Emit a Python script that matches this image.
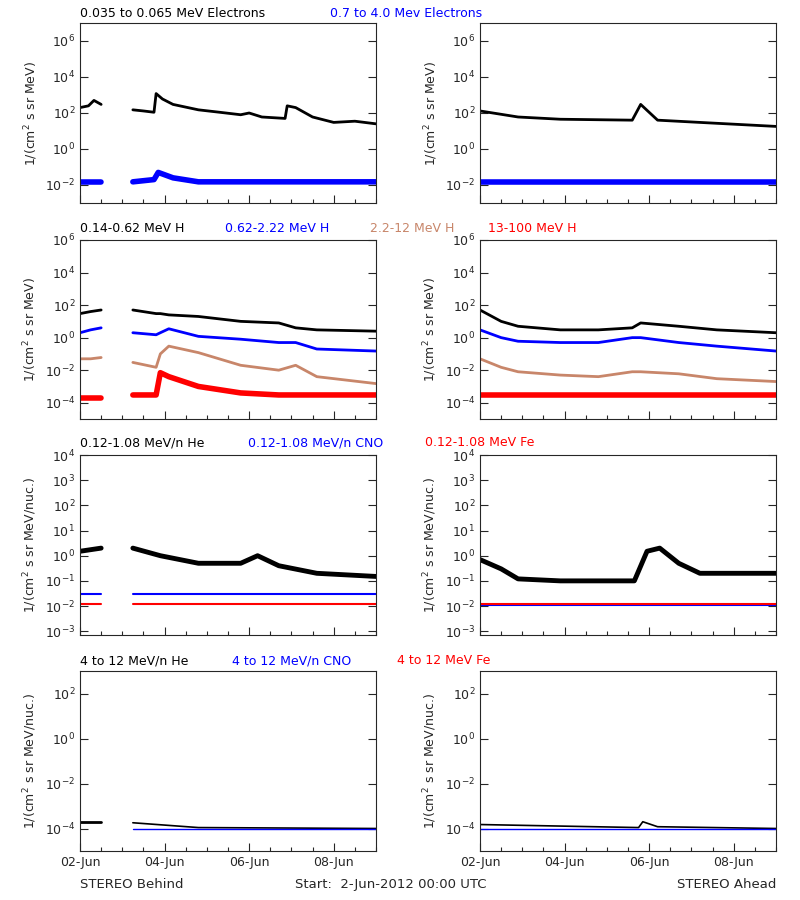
import numpy as np, pandas as pd, matplotlib
matplotlib.use("Agg")
import matplotlib.pyplot as plt, seaborn as sns
from matplotlib.ticker import NullFormatter, FixedLocator

sns.set_style("ticks")
plt.rcParams['font.family'] = ['DejaVu Sans']

# ---- data (time in days since 2-Jun-2012 00:00) ----
# Row 1: electrons
eB_black_t1 = [0.0, 0.2, 0.33, 0.5]; eB_black_v1 = [200, 250, 500, 300]
eB_black_t = [1.25, 1.5, 1.75, 1.8, 1.95, 2.2, 2.8, 3.3, 3.8, 4.0, 4.3, 4.85, 4.9, 5.1, 5.5, 6.0, 6.5, 7.0]
eB_black_v = [150, 130, 110, 1200, 600, 300, 150, 110, 80, 100, 60, 50, 250, 200, 60, 30, 35, 25]
eB_blue_t = [0.0, 0.5, 1.25, 1.75, 1.85, 2.2, 2.8, 7.0]; eB_blue_v = [0.015, 0.015, 0.015, 0.02, 0.05, 0.025, 0.015, 0.015]
eA_black_t = [0.0, 0.9, 1.9, 3.6, 3.8, 4.2, 5.2, 7.0]; eA_black_v = [130, 60, 45, 40, 300, 40, 30, 18]
eA_blue_t = [0.0, 7.0]; eA_blue_v = [0.015, 0.015]
# Row 2: protons
hB_t1 = [0.0, 0.25, 0.5]
hB_black_v1 = [30, 40, 50]; hB_blue_v1 = [2, 3, 4]; hB_brown_v1 = [0.05, 0.05, 0.06]; hB_red_v1 = [2e-4, 2e-4, 2e-4]
hB_t = [1.25, 1.8, 1.9, 2.1, 2.8, 3.8, 4.7, 5.1, 5.6, 7.0]
hB_black_v = [50, 30, 30, 25, 20, 10, 8, 4, 3, 2.5]
hB_blue_v = [2, 1.5, 2, 3.5, 1.2, 0.8, 0.5, 0.5, 0.2, 0.15]
hB_brown_v = [0.03, 0.015, 0.1, 0.3, 0.12, 0.02, 0.01, 0.02, 0.004, 0.0015]
hB_red_v = [3e-4, 3e-4, 7e-3, 4e-3, 1e-3, 4e-4, 3e-4, 3e-4, 3e-4, 3e-4]
hA_t = [0.0, 0.5, 0.9, 1.9, 2.8, 3.6, 3.8, 4.7, 5.6, 7.0]
hA_black_v = [50, 10, 5, 3, 3, 4, 8, 5, 3, 2]
hA_blue_v = [3, 1, 0.6, 0.5, 0.5, 1, 1, 0.5, 0.3, 0.15]
hA_brown_v = [0.05, 0.015, 0.008, 0.005, 0.004, 0.008, 0.008, 0.006, 0.003, 0.002]
hA_red_v = [3e-4] * 10
# Row 3: 0.12-1.08 MeV/n ions
iB_t1 = [0.0, 0.5]; iB_black_v1 = [1.5, 2.0]; iB_blue_v1 = [0.03, 0.03]; iB_red_v1 = [0.012, 0.012]
iB_t = [1.25, 1.9, 2.8, 3.8, 4.2, 4.7, 5.6, 7.0]
iB_black_v = [2.0, 1.0, 0.5, 0.5, 1.0, 0.4, 0.2, 0.15]
iB_blue_v = [0.03] * 8; iB_red_v = [0.012] * 8
iA_t = [0.0, 0.5, 0.9, 1.9, 3.65, 3.95, 4.25, 4.7, 5.2, 7.0]
iA_black_v = [0.7, 0.3, 0.12, 0.1, 0.1, 1.5, 2.0, 0.5, 0.2, 0.2]
iA_blue_v = [0.011] * 10; iA_red_v = [0.012] * 10
# Row 4: 4-12 MeV/n ions
jB_t1 = [0.0, 0.5]; jB_black_v1 = [2e-4, 2e-4]
jB_t = [1.25, 2.8, 7.0]; jB_black_v = [1.8e-4, 1.1e-4, 1.0e-4]; jB_blue_v = [1e-4, 1e-4, 1e-4]
jA_t = [0.0, 3.75, 3.85, 4.2, 7.0]; jA_black_v = [1.5e-4, 1.1e-4, 2e-4, 1.2e-4, 1.0e-4]; jA_blue_v = [1e-4] * 5

BROWN = '#c8866a'
fig = plt.figure(figsize=(8, 9), dpi=100)
W, H = 800, 900
lefts = [80, 480]
rows = [(23, 203), (240, 419), (455, 635), (671, 851)]
ylims = [(1e-3, 1e7), (1e-5, 1e6), (10**-3.15, 1e4), (1e-5, 1e3)]
yticks = [[1e-2, 1, 1e2, 1e4, 1e6], [1e-4, 1e-2, 1, 1e2, 1e4, 1e6],
          [1e-3, 1e-2, 1e-1, 1, 1e1, 1e2, 1e3, 1e4], [1e-4, 1e-2, 1, 1e2]]
ylabels = ["1/(cm$^2$ s sr MeV)"] * 2 + ["1/(cm$^2$ s sr MeV/nuc.)"] * 2

def line(ax, t, v, c, lw=2.0):
    sns.lineplot(x=t, y=v, ax=ax, color=c, lw=lw, estimator=None, sort=False)

axes = {}
for r, (top, bot) in enumerate(rows):
    for c, l in enumerate(lefts):
        ax = fig.add_axes([l / W, 1 - bot / H, 296 / W, (bot - top) / H])
        ax.set_yscale('log'); ax.set_ylim(*ylims[r]); ax.set_xlim(0, 7.0)
        ax.yaxis.set_major_locator(FixedLocator(yticks[r]))
        ax.yaxis.set_minor_locator(FixedLocator([]))
        ax.yaxis.set_minor_formatter(NullFormatter())
        ax.set_xticks([0, 2, 4, 6])
        ax.set_xticks(np.arange(0, 7.01, 0.5), minor=True)
        ax.set_xticklabels(['02-Jun', '04-Jun', '06-Jun', '08-Jun'] if r == 3 else [])
        ax.tick_params(which='major', direction='in', right=True, top=False, labelsize=9, length=6, width=0.8)
        ax.tick_params(which='minor', direction='in', length=3, width=0.8)
        ax.set_ylabel(ylabels[r], fontsize=9)
        for s in ax.spines.values(): s.set_linewidth(0.8)
        axes[(r, c)] = ax

a = axes[(0, 0)]
line(a, eB_black_t1, eB_black_v1, 'k'); line(a, eB_black_t, eB_black_v, 'k')
line(a, eB_blue_t[:2], eB_blue_v[:2], 'b', 4); line(a, eB_blue_t[2:], eB_blue_v[2:], 'b', 4)
a = axes[(0, 1)]
line(a, eA_black_t, eA_black_v, 'k'); line(a, eA_blue_t, eA_blue_v, 'b', 4)

a = axes[(1, 0)]
for v1, v, col, lw in [(hB_black_v1, hB_black_v, 'k', 2.0), (hB_blue_v1, hB_blue_v, 'b', 2.0),
                       (hB_brown_v1, hB_brown_v, BROWN, 2.0), (hB_red_v1, hB_red_v, 'r', 4)]:
    line(a, hB_t1, v1, col, lw); line(a, hB_t, v, col, lw)
a = axes[(1, 1)]
for v, col, lw in [(hA_black_v, 'k', 2.0), (hA_blue_v, 'b', 2.0), (hA_brown_v, BROWN, 2.0), (hA_red_v, 'r', 4)]:
    line(a, hA_t, v, col, lw)

a = axes[(2, 0)]
for v1, v, col, lw in [(iB_black_v1, iB_black_v, 'k', 3.5), (iB_blue_v1, iB_blue_v, 'b', 1.5), (iB_red_v1, iB_red_v, 'r', 1.5)]:
    line(a, iB_t1, v1, col, lw); line(a, iB_t, v, col, lw)
a = axes[(2, 1)]
for v, col, lw in [(iA_black_v, 'k', 3.5), (iA_blue_v, 'b', 1.5), (iA_red_v, 'r', 1.5)]:
    line(a, iA_t, v, col, lw)

a = axes[(3, 0)]
line(a, jB_t1, jB_black_v1, 'k', 2); line(a, jB_t, jB_black_v, 'k', 1.2); line(a, jB_t, jB_blue_v, 'b', 1)
a = axes[(3, 1)]
line(a, jA_t, jA_black_v, 'k', 1.2); line(a, jA_t, jA_blue_v, 'b', 1)

def titles(y, items):
    for x, txt, col in items:
        fig.text(x / W, 1 - y / H, txt, color=col, fontsize=9, va='baseline')
titles(17, [(80, '0.035 to 0.065 MeV Electrons', 'k'), (330, '0.7 to 4.0 Mev Electrons', 'b')])
titles(232, [(80, '0.14-0.62 MeV H', 'k'), (225, '0.62-2.22 MeV H', 'b'), (370, '2.2-12 MeV H', BROWN), (488, '13-100 MeV H', 'r')])
titles(446, [(80, '0.12-1.08 MeV/n He', 'k'), (248, '0.12-1.08 MeV/n CNO', 'b'), (425, '0.12-1.08 MeV Fe', 'r')])
titles(664, [(80, '4 to 12 MeV/n He', 'k'), (232, '4 to 12 MeV/n CNO', 'b'), (397, '4 to 12 MeV Fe', 'r')])
fig.text(80 / W, 1 - 888 / H, 'STEREO Behind', fontsize=9.5)
fig.text(295 / W, 1 - 888 / H, 'Start:  2-Jun-2012 00:00 UTC', fontsize=9.5)
fig.text(776 / W, 1 - 888 / H, 'STEREO Ahead', fontsize=9.5, ha='right')
fig.savefig('out.png', dpi=100, facecolor='white')
